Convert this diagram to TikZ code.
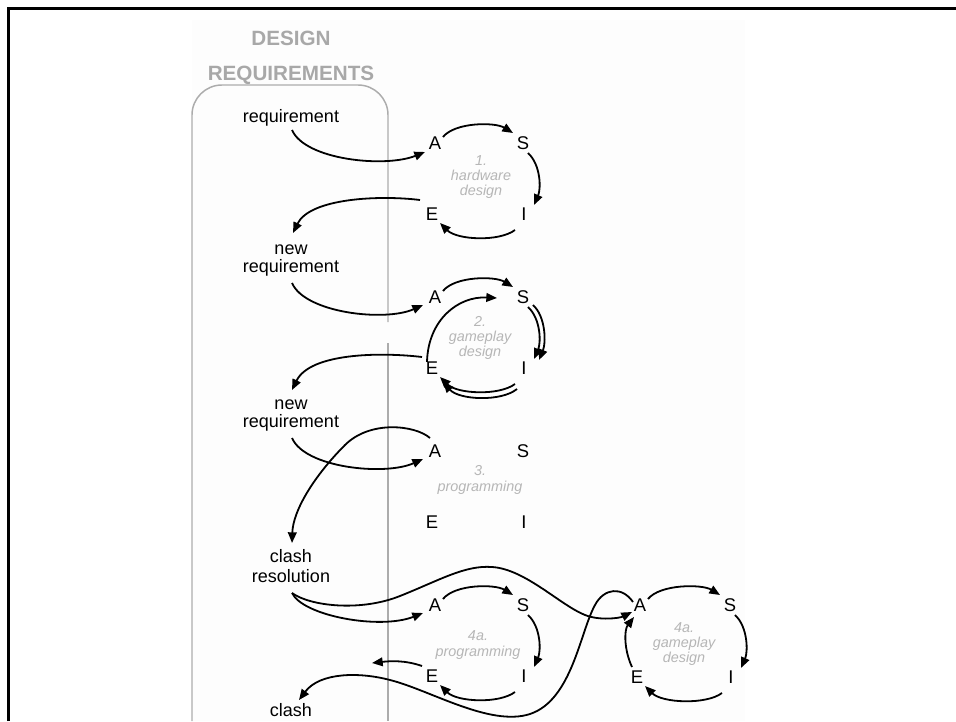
\documentclass[tikz,border=0pt]{standalone}
\usepackage{fontspec}
\setmainfont{Liberation Sans}
\usetikzlibrary{arrows.meta,calc}
\definecolor{hdgray}{RGB}{168,168,168}
\definecolor{boxgray}{RGB}{172,172,172}
\definecolor{lblgray}{RGB}{182,182,182}
\definecolor{bgfaint}{RGB}{253,253,253}
\newcommand\cycAS[1]{\draw[arr] ($(#1A)+(8,-6)$) .. controls ($(#1A)+(20,-21)$) and ($(#1S)+(-28,-21)$) .. ($(#1S)+(-10,-10)$);}
\newcommand\cycSI[1]{\draw[arr] ($(#1S)+(5,10)$) .. controls ($(#1S)+(18,22)$) and ($(#1I)+(17,-25)$) .. ($(#1I)+(10,-9)$);}
\newcommand\cycIE[1]{\draw[arr] ($(#1I)+(-9,16)$) .. controls ($(#1I)+(-25,28)$) and ($(#1E)+(25,26)$) .. ($(#1E)+(8,9)$);}
\newcommand\cycnodes[5]{%
  \node[let] (#1A) at (#2,#3) {A};
  \node[let] (#1S) at (#2+88,#3) {S};
  \node[let] (#1E) at (#2-3,#3+71) {E};
  \node[let] (#1I) at (#2+89,#3+71) {I};
  \node[cl] (#1L) at (#4,#5)}
\begin{document}
\begin{tikzpicture}[x=0.75pt,y=-0.75pt,
  arr/.style={draw=black,line width=1.35pt,-{Triangle[length=8pt,width=6.5pt]}},
  lt/.style={font=\fontsize{13.5}{13.5}\selectfont,align=center,inner sep=0pt},
  let/.style={font=\fontsize{13.8}{13.8}\selectfont,inner sep=0pt},
  cl/.style={font=\fontsize{10.8}{11.4}\selectfont\itshape,text=lblgray,align=center,inner sep=0pt},
  hd/.style={font=\fontsize{15.5}{17}\selectfont\bfseries,text=hdgray,inner sep=0pt,anchor=base},
]
\useasboundingbox (0,0) rectangle (956,721);
\fill[bgfaint] (192,20) rectangle (745,721);
\draw[line width=2.5pt] (8.5,721) -- (8.5,8.5) -- (956,8.5);
% requirements box
\draw[boxgray,line width=1.1pt,rounded corners=22.5pt] (192,721) -- (192,85) -- (388,85) -- (388,322);
\draw[boxgray,line width=1.1pt] (388,343) -- (388,721);
% headers
\node[hd] (hdA) at (291,45) {DESIGN};
\node[hd] (hdB) at (291,80) {REQUIREMENTS};
% left labels
\node[lt] (r1) at (291,118) {requirement};
\node[lt] (n1) at (291,261) {new\\requirement};
\node[lt] (n2) at (291,416) {new\\requirement};
\node[lt,font=\fontsize{13.5}{15}\selectfont] (cr) at (291,566) {clash\\resolution};
\node[lt] (cl) at (291,710) {clash};
% cycles
\cycnodes{c1}{435}{143}{481}{177} {1.\\hardware\\design};
\cycnodes{c2}{435}{297}{480}{338} {2.\\gameplay\\design};
\cycnodes{c3}{435}{451}{480}{480} {3.\\programming};
\cycnodes{c4}{435}{605}{478}{645} {4a.\\programming};
\node[let] (gA) at (640,605) {A};
\node[let] (gS) at (730,605) {S};
\node[let] (gE) at (637,677) {E};
\node[let] (gI) at (731,677) {I};
\node[cl] (gL) at (684,644) {4a.\\gameplay\\design};
\coordinate (e4tip) at (372,663);
% cycle 1
\cycAS{c1}\cycSI{c1}\cycIE{c1}
% cycle 2
\cycAS{c2}\cycSI{c2}\cycIE{c2}
\draw[arr] ($(c2S)+(10,8)$) .. controls ($(c2S)+(23,20)$) and ($(c2I)+(22,-25)$) .. ($(c2I)+(15,-8)$);
\draw[arr] ($(c2I)+(-7,21)$) .. controls ($(c2I)+(-23,34)$) and ($(c2E)+(27,32)$) .. ($(c2E)+(11,14)$);
\draw[arr] ($(c2E)+(-5,-6)$) .. controls ($(c2E)+(-4,-48)$) and ($(c2S)+(-65,-1)$) .. ($(c2S)+(-26,1)$);
% cycle 4a programming
\cycAS{c4}\cycSI{c4}\cycIE{c4}
% cycle 4a gameplay
\cycAS{g}\cycSI{g}\cycIE{g}
\draw[arr] ($(gE)+(-5,-10)$) .. controls ($(gE)+(-13,-27)$) and ($(gA)+(-16,25)$) .. ($(gA)+(-6,12)$);
% requirement -> A
\draw[arr] ($(r1)+(1,12)$) .. controls ($(r1)+(14,42)$) and ($(c1A)+(-50,25)$) .. ($(c1A)+(-10,9)$);
\draw[arr] ($(n1)+(1,22)$) .. controls ($(n1)+(14,52)$) and ($(c2A)+(-50,25)$) .. ($(c2A)+(-12,8)$);
\draw[arr] ($(n2)+(1,22)$) .. controls ($(n2)+(14,52)$) and ($(c3A)+(-50,25)$) .. ($(c3A)+(-12,8)$);
% E -> new requirement
\draw[arr] ($(c1E)+(-12,-14)$) .. controls ($(c1E)+(-52,-19)$) and ($(n1)+(19,-63)$) .. ($(n1)+(2,-28)$);
\draw[arr] ($(c2E)+(-10,-11)$) .. controls ($(c2E)+(-52,-16)$) and ($(n2)+(19,-63)$) .. ($(n2)+(1,-26)$);
% A3 -> clash resolution
\draw[arr] ($(c3A)+(-5,-13)$) .. controls (415,425) and (370,420) .. (345,445)
   .. controls (315,475) and (293,510) .. ($(cr)+(1,-23)$);
% clash resolution -> A (4a programming)
\draw[arr] ($(cr)+(1,27)$) .. controls ($(cr)+(12,50)$) and ($(c4A)+(-55,25)$) .. ($(c4A)+(-12,8)$);
% clash resolution -> A (4a gameplay)
\draw[arr] ($(cr)+(1,27)$) .. controls (310,606) and (360,612) .. (400,596)
   .. controls (440,580) and (465,565) .. (492,567)
   .. controls (525,569) and (560,605) .. (585,615)
   .. controls (600,621) and (620,618) .. ($(gA)+(-8,7)$);
% gameplay A -> clash
\draw[arr] ($(gA)+(-7,-3)$) .. controls (622,586) and (604,588) .. (595,605)
   .. controls (580,632) and (572,700) .. (530,714)
   .. controls (490,727) and (430,690) .. (390,680)
   .. controls (360,672) and (320,672) .. ($(cl)+(8,-10)$);
% E (4a programming) -> left
\draw[arr] ($(c4E)+(-10,-10)$) .. controls (405,660) and (390,661) .. (e4tip);
\end{tikzpicture}
\end{document}
